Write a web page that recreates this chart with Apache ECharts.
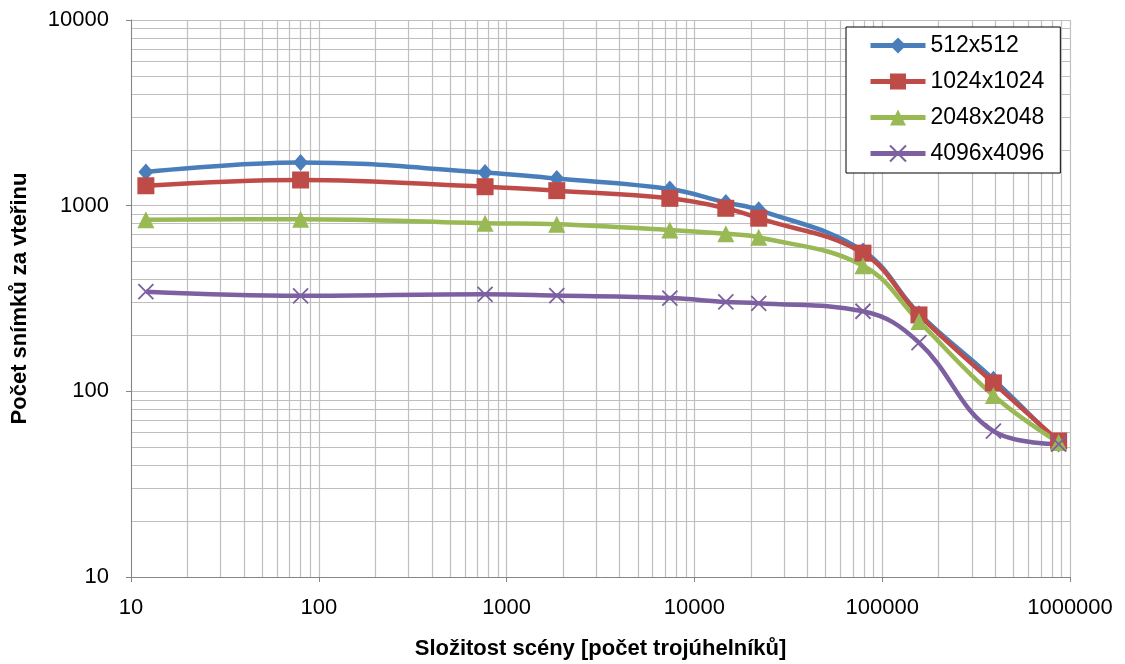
<!DOCTYPE html>
<html>
<head>
<meta charset="utf-8">
<script src="https://cdn.jsdelivr.net/npm/echarts@6/dist/echarts.min.js"></script>
<style>
  html, body { margin: 0; padding: 0; background: #fff; }
  #chart { width: 1125px; height: 664px; }
</style>
</head>
<body>
<div id="chart"></div>
<script>
// scene complexity (triangles) on x
const triangles = [12, 80, 768, 1850, 7400, 14700, 22000, 79000, 157000, 391000, 870000]
// frames per second for each shadow map resolution
const fps512 = [1520, 1710, 1510, 1400, 1230, 1040, 950, 570, 262, 116, 52]
const fps1024 = [1280, 1375, 1265, 1205, 1095, 968, 856, 555, 258, 111, 54]
const fps2048 = [840, 845, 805, 795, 740, 705, 676, 475, 238, 95, 53]
const fps4096 = [344, 327, 333, 328, 318, 303, 298, 270, 183, 61, 52]
const seriesNames = ['512x512', '1024x1024', '2048x2048', '4096x4096']

const font = 'Liberation Sans, Arial, sans-serif'
const gridColor = '#bfbfbf'
const axisColor = '#868686'

function pairs(ys) {
  return triangles.map((x, i) => [x, ys[i]])
}

function makeSeries(name, ys, color, symbol, size, extraItem) {
  return {
    name: name,
    type: 'line',
    smooth: 0.4,
    data: pairs(ys),
    symbol: symbol,
    symbolSize: size,
    showAllSymbol: true,
    lineStyle: { color: color, width: 4.5 },
    itemStyle: Object.assign({ color: color }, extraItem || {}),
    emphasis: { disabled: true }
  }
}

const chart = echarts.init(document.getElementById('chart'))
const option = {
  backgroundColor: '#fff',
  animation: false,
  textStyle: { fontFamily: font },
  grid: { left: 131, right: 55, top: 20, bottom: 87, outerBoundsMode: 'none', containLabel: false },
  legend: {
    orient: 'vertical',
    left: 846,
    top: 27,
    backgroundColor: '#fff',
    borderColor: '#000',
    borderWidth: 1,
    borderRadius: 0,
    padding: [7, 16, 8, 22],
    itemWidth: 55,
    itemHeight: 20,
    itemGap: 13,
    lineStyle: { width: 5 },
    textStyle: { fontFamily: font, fontSize: 23, color: '#000' },
    data: seriesNames
  },
  xAxis: {
    type: 'log',
    logBase: 10,
    min: 10,
    max: 1000000,
    name: 'Složitost scény [počet trojúhelníků]',
    nameLocation: 'middle',
    nameGap: 61,
    nameTextStyle: { fontFamily: font, fontSize: 22, fontWeight: 'bold', color: '#000' },
    axisLine: { lineStyle: { color: axisColor, width: 1 } },
    axisTick: { show: true, length: 5, lineStyle: { color: axisColor } },
    axisLabel: { fontSize: 22, color: '#000', margin: 20, formatter: v => String(v) },
    splitLine: { show: true, lineStyle: { color: gridColor, width: 1.2 } },
    minorTick: { show: false, splitNumber: 9 },
    minorSplitLine: { show: true, lineStyle: { color: gridColor, width: 1.2 } }
  },
  yAxis: {
    type: 'log',
    logBase: 10,
    min: 10,
    max: 10000,
    name: 'Počet snímků za vteřinu',
    nameLocation: 'middle',
    nameGap: 100,
    nameTextStyle: { fontFamily: font, fontSize: 22, fontWeight: 'bold', color: '#000' },
    axisLine: { show: true, lineStyle: { color: axisColor, width: 1 } },
    axisTick: { show: true, length: 5, lineStyle: { color: axisColor } },
    axisLabel: { fontSize: 22, color: '#000', margin: 22, formatter: v => String(v) },
    splitLine: { show: true, lineStyle: { color: gridColor, width: 1.2 } },
    minorTick: { show: false, splitNumber: 9 },
    minorSplitLine: { show: true, lineStyle: { color: gridColor, width: 1.2 } }
  },
  series: [
    makeSeries(seriesNames[0], fps512, '#4A7EBB', 'diamond', [15, 17]),
    makeSeries(seriesNames[1], fps1024, '#BE4B48', 'rect', 17),
    makeSeries(seriesNames[2], fps2048, '#98B954', 'triangle', 17),
    makeSeries(seriesNames[3], fps4096, '#7D60A0', 'path://M0,0L10,10M10,0L0,10', 15,
      { color: 'none', borderColor: '#7D60A0', borderWidth: 1.8 })
  ]
}
chart.setOption(option)
</script>
</body>
</html>
